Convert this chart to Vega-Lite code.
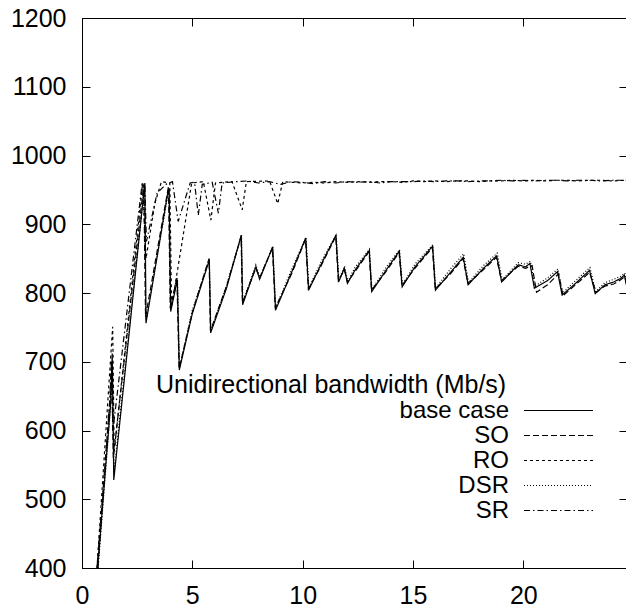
{
  "$schema": "https://vega.github.io/schema/vega-lite/v6.json",
  "width": 545,
  "height": 550,
  "autosize": "none",
  "padding": {"left": 82, "top": 18, "right": 0, "bottom": 41},
  "background": "white",
  "title": {
    "text": "Unidirectional bandwidth (Mb/s)",
    "orient": "top",
    "anchor": "start",
    "frame": "group",
    "offset": 0,
    "baseline": "top",
    "dx": 74,
    "dy": 392,
    "font": "Liberation Sans",
    "fontSize": 25,
    "fontWeight": "normal",
    "color": "black"
  },
  "config": {
    "font": "Liberation Sans",
    "view": {"stroke": "black", "strokeWidth": 1},
    "axis": {
      "grid": false,
      "title": null,
      "domainColor": "black",
      "domainWidth": 1,
      "tickColor": "black",
      "tickWidth": 1,
      "tickSize": -8,
      "labelColor": "black",
      "labelFontSize": 25,
      "labelFont": "Liberation Sans",
      "format": "d"
    }
  },
  "data": {
    "values": [
      {"s": "base case", "x": 0.71, "y": 400}, {"s": "base case", "x": 1.3, "y": 640}, {"s": "base case", "x": 1.37, "y": 712}, {"s": "base case", "x": 1.44, "y": 528},
      {"s": "base case", "x": 2.85, "y": 960}, {"s": "base case", "x": 2.9, "y": 756}, {"s": "base case", "x": 3.9, "y": 948}, {"s": "base case", "x": 3.95, "y": 952},
      {"s": "base case", "x": 4.02, "y": 773}, {"s": "base case", "x": 4.32, "y": 819}, {"s": "base case", "x": 4.41, "y": 688}, {"s": "base case", "x": 5.0, "y": 770},
      {"s": "base case", "x": 5.77, "y": 848}, {"s": "base case", "x": 5.83, "y": 742}, {"s": "base case", "x": 6.55, "y": 807}, {"s": "base case", "x": 7.22, "y": 884},
      {"s": "base case", "x": 7.28, "y": 783}, {"s": "base case", "x": 7.88, "y": 838}, {"s": "base case", "x": 8.05, "y": 820}, {"s": "base case", "x": 8.64, "y": 867},
      {"s": "base case", "x": 8.77, "y": 775}, {"s": "base case", "x": 9.5, "y": 830}, {"s": "base case", "x": 10.14, "y": 880}, {"s": "base case", "x": 10.27, "y": 804},
      {"s": "base case", "x": 10.78, "y": 838}, {"s": "base case", "x": 11.51, "y": 884}, {"s": "base case", "x": 11.63, "y": 816}, {"s": "base case", "x": 11.89, "y": 836},
      {"s": "base case", "x": 12.03, "y": 814}, {"s": "base case", "x": 12.37, "y": 833}, {"s": "base case", "x": 13.02, "y": 862}, {"s": "base case", "x": 13.13, "y": 802},
      {"s": "base case", "x": 13.8, "y": 834}, {"s": "base case", "x": 14.38, "y": 861}, {"s": "base case", "x": 14.51, "y": 809}, {"s": "base case", "x": 15.09, "y": 838},
      {"s": "base case", "x": 15.89, "y": 868}, {"s": "base case", "x": 16.02, "y": 804}, {"s": "base case", "x": 16.7, "y": 830}, {"s": "base case", "x": 17.28, "y": 852},
      {"s": "base case", "x": 17.5, "y": 812}, {"s": "base case", "x": 18.2, "y": 836}, {"s": "base case", "x": 18.79, "y": 854}, {"s": "base case", "x": 19.02, "y": 816},
      {"s": "base case", "x": 19.77, "y": 841}, {"s": "base case", "x": 20.1, "y": 838}, {"s": "base case", "x": 20.3, "y": 843}, {"s": "base case", "x": 20.5, "y": 807},
      {"s": "base case", "x": 21.1, "y": 818}, {"s": "base case", "x": 21.55, "y": 831}, {"s": "base case", "x": 21.76, "y": 797}, {"s": "base case", "x": 22.3, "y": 812},
      {"s": "base case", "x": 23.0, "y": 833}, {"s": "base case", "x": 23.26, "y": 799}, {"s": "base case", "x": 23.7, "y": 812}, {"s": "base case", "x": 24.1, "y": 816},
      {"s": "base case", "x": 24.4, "y": 821}, {"s": "base case", "x": 24.58, "y": 826}, {"s": "base case", "x": 24.7, "y": 808},

      {"s": "SO", "x": 0.68, "y": 400}, {"s": "SO", "x": 1.28, "y": 650}, {"s": "SO", "x": 1.34, "y": 700}, {"s": "SO", "x": 1.42, "y": 560},
      {"s": "SO", "x": 2.8, "y": 958}, {"s": "SO", "x": 2.88, "y": 765}, {"s": "SO", "x": 3.92, "y": 955}, {"s": "SO", "x": 4.0, "y": 778},
      {"s": "SO", "x": 4.3, "y": 822}, {"s": "SO", "x": 4.4, "y": 690}, {"s": "SO", "x": 5.0, "y": 772}, {"s": "SO", "x": 5.76, "y": 850},
      {"s": "SO", "x": 5.82, "y": 745}, {"s": "SO", "x": 6.55, "y": 810}, {"s": "SO", "x": 7.21, "y": 882}, {"s": "SO", "x": 7.27, "y": 786},
      {"s": "SO", "x": 7.88, "y": 836}, {"s": "SO", "x": 8.05, "y": 822}, {"s": "SO", "x": 8.63, "y": 865}, {"s": "SO", "x": 8.76, "y": 778},
      {"s": "SO", "x": 9.5, "y": 828}, {"s": "SO", "x": 10.13, "y": 878}, {"s": "SO", "x": 10.26, "y": 806}, {"s": "SO", "x": 10.78, "y": 836},
      {"s": "SO", "x": 11.5, "y": 882}, {"s": "SO", "x": 11.62, "y": 818}, {"s": "SO", "x": 11.89, "y": 834}, {"s": "SO", "x": 12.03, "y": 816},
      {"s": "SO", "x": 12.37, "y": 831}, {"s": "SO", "x": 13.01, "y": 860}, {"s": "SO", "x": 13.12, "y": 804}, {"s": "SO", "x": 13.8, "y": 832},
      {"s": "SO", "x": 14.37, "y": 859}, {"s": "SO", "x": 14.5, "y": 811}, {"s": "SO", "x": 15.09, "y": 836}, {"s": "SO", "x": 15.88, "y": 866},
      {"s": "SO", "x": 16.01, "y": 806}, {"s": "SO", "x": 16.7, "y": 828}, {"s": "SO", "x": 17.27, "y": 850}, {"s": "SO", "x": 17.49, "y": 814},
      {"s": "SO", "x": 18.2, "y": 834}, {"s": "SO", "x": 18.78, "y": 852}, {"s": "SO", "x": 19.01, "y": 818}, {"s": "SO", "x": 19.77, "y": 839},
      {"s": "SO", "x": 20.1, "y": 836}, {"s": "SO", "x": 20.4, "y": 840}, {"s": "SO", "x": 20.6, "y": 801}, {"s": "SO", "x": 21.1, "y": 812},
      {"s": "SO", "x": 21.6, "y": 828}, {"s": "SO", "x": 21.8, "y": 796}, {"s": "SO", "x": 22.3, "y": 810}, {"s": "SO", "x": 23.0, "y": 830},
      {"s": "SO", "x": 23.3, "y": 801}, {"s": "SO", "x": 23.7, "y": 810}, {"s": "SO", "x": 24.1, "y": 813}, {"s": "SO", "x": 24.4, "y": 819},
      {"s": "SO", "x": 24.6, "y": 824}, {"s": "SO", "x": 24.7, "y": 810},

      {"s": "RO", "x": 0.68, "y": 400}, {"s": "RO", "x": 1.39, "y": 751}, {"s": "RO", "x": 1.46, "y": 570}, {"s": "RO", "x": 2.75, "y": 960},
      {"s": "RO", "x": 2.9, "y": 850}, {"s": "RO", "x": 3.3, "y": 930}, {"s": "RO", "x": 3.6, "y": 962}, {"s": "RO", "x": 3.98, "y": 960},
      {"s": "RO", "x": 4.06, "y": 780}, {"s": "RO", "x": 4.97, "y": 960}, {"s": "RO", "x": 5.5, "y": 962}, {"s": "RO", "x": 5.84, "y": 906},
      {"s": "RO", "x": 6.05, "y": 960}, {"s": "RO", "x": 6.8, "y": 962}, {"s": "RO", "x": 7.26, "y": 921}, {"s": "RO", "x": 7.45, "y": 962},
      {"s": "RO", "x": 8.5, "y": 963}, {"s": "RO", "x": 8.87, "y": 930}, {"s": "RO", "x": 9.1, "y": 962}, {"s": "RO", "x": 9.5, "y": 961},
      {"s": "RO", "x": 10.0, "y": 960}, {"s": "RO", "x": 10.5, "y": 961}, {"s": "RO", "x": 11.0, "y": 960}, {"s": "RO", "x": 11.5, "y": 962},
      {"s": "RO", "x": 12.0, "y": 961}, {"s": "RO", "x": 12.5, "y": 962}, {"s": "RO", "x": 13.0, "y": 961}, {"s": "RO", "x": 13.5, "y": 962},
      {"s": "RO", "x": 14.0, "y": 962}, {"s": "RO", "x": 14.5, "y": 961}, {"s": "RO", "x": 15.0, "y": 963}, {"s": "RO", "x": 15.5, "y": 962},
      {"s": "RO", "x": 16.0, "y": 963}, {"s": "RO", "x": 16.5, "y": 962}, {"s": "RO", "x": 17.0, "y": 963}, {"s": "RO", "x": 17.5, "y": 963},
      {"s": "RO", "x": 18.0, "y": 962}, {"s": "RO", "x": 18.5, "y": 963}, {"s": "RO", "x": 19.0, "y": 963}, {"s": "RO", "x": 19.5, "y": 964},
      {"s": "RO", "x": 20.0, "y": 963}, {"s": "RO", "x": 20.5, "y": 964}, {"s": "RO", "x": 21.0, "y": 963}, {"s": "RO", "x": 21.5, "y": 964},
      {"s": "RO", "x": 22.0, "y": 964}, {"s": "RO", "x": 22.5, "y": 963}, {"s": "RO", "x": 23.0, "y": 964}, {"s": "RO", "x": 23.5, "y": 964},
      {"s": "RO", "x": 24.0, "y": 963}, {"s": "RO", "x": 24.7, "y": 964},

      {"s": "DSR", "x": 0.73, "y": 400}, {"s": "DSR", "x": 1.32, "y": 645}, {"s": "DSR", "x": 1.38, "y": 695}, {"s": "DSR", "x": 1.45, "y": 540},
      {"s": "DSR", "x": 2.83, "y": 955}, {"s": "DSR", "x": 2.9, "y": 760}, {"s": "DSR", "x": 3.93, "y": 950}, {"s": "DSR", "x": 4.01, "y": 776},
      {"s": "DSR", "x": 4.33, "y": 821}, {"s": "DSR", "x": 4.42, "y": 692}, {"s": "DSR", "x": 5.0, "y": 775}, {"s": "DSR", "x": 5.77, "y": 850},
      {"s": "DSR", "x": 5.84, "y": 746}, {"s": "DSR", "x": 6.55, "y": 811}, {"s": "DSR", "x": 7.23, "y": 885}, {"s": "DSR", "x": 7.29, "y": 787},
      {"s": "DSR", "x": 7.88, "y": 841}, {"s": "DSR", "x": 8.06, "y": 823}, {"s": "DSR", "x": 8.65, "y": 868}, {"s": "DSR", "x": 8.78, "y": 779},
      {"s": "DSR", "x": 9.5, "y": 834}, {"s": "DSR", "x": 10.15, "y": 881}, {"s": "DSR", "x": 10.28, "y": 807}, {"s": "DSR", "x": 10.78, "y": 842},
      {"s": "DSR", "x": 11.52, "y": 885}, {"s": "DSR", "x": 11.64, "y": 819}, {"s": "DSR", "x": 11.9, "y": 839}, {"s": "DSR", "x": 12.04, "y": 817},
      {"s": "DSR", "x": 12.37, "y": 837}, {"s": "DSR", "x": 13.03, "y": 864}, {"s": "DSR", "x": 13.14, "y": 805}, {"s": "DSR", "x": 13.8, "y": 838},
      {"s": "DSR", "x": 14.39, "y": 863}, {"s": "DSR", "x": 14.52, "y": 812}, {"s": "DSR", "x": 15.09, "y": 842}, {"s": "DSR", "x": 15.9, "y": 870},
      {"s": "DSR", "x": 16.03, "y": 807}, {"s": "DSR", "x": 16.7, "y": 835}, {"s": "DSR", "x": 17.3, "y": 857}, {"s": "DSR", "x": 17.52, "y": 815},
      {"s": "DSR", "x": 18.2, "y": 840}, {"s": "DSR", "x": 18.82, "y": 858}, {"s": "DSR", "x": 19.04, "y": 819}, {"s": "DSR", "x": 19.77, "y": 844},
      {"s": "DSR", "x": 20.1, "y": 842}, {"s": "DSR", "x": 20.32, "y": 846}, {"s": "DSR", "x": 20.52, "y": 810}, {"s": "DSR", "x": 21.1, "y": 822},
      {"s": "DSR", "x": 21.57, "y": 835}, {"s": "DSR", "x": 21.78, "y": 800}, {"s": "DSR", "x": 22.3, "y": 816}, {"s": "DSR", "x": 23.02, "y": 837},
      {"s": "DSR", "x": 23.28, "y": 802}, {"s": "DSR", "x": 23.7, "y": 815}, {"s": "DSR", "x": 24.1, "y": 820}, {"s": "DSR", "x": 24.4, "y": 824},
      {"s": "DSR", "x": 24.6, "y": 829}, {"s": "DSR", "x": 24.7, "y": 812},

      {"s": "SR", "x": 0.72, "y": 400}, {"s": "SR", "x": 1.25, "y": 640}, {"s": "SR", "x": 1.33, "y": 700}, {"s": "SR", "x": 1.4, "y": 600},
      {"s": "SR", "x": 2.72, "y": 958}, {"s": "SR", "x": 2.85, "y": 955}, {"s": "SR", "x": 2.92, "y": 875}, {"s": "SR", "x": 3.4, "y": 945},
      {"s": "SR", "x": 3.8, "y": 958}, {"s": "SR", "x": 4.1, "y": 962}, {"s": "SR", "x": 4.36, "y": 904}, {"s": "SR", "x": 4.9, "y": 960},
      {"s": "SR", "x": 5.1, "y": 961}, {"s": "SR", "x": 5.27, "y": 913}, {"s": "SR", "x": 5.45, "y": 958}, {"s": "SR", "x": 5.9, "y": 961},
      {"s": "SR", "x": 6.18, "y": 916}, {"s": "SR", "x": 6.35, "y": 960}, {"s": "SR", "x": 7.0, "y": 962}, {"s": "SR", "x": 7.5, "y": 963},
      {"s": "SR", "x": 8.0, "y": 960}, {"s": "SR", "x": 8.5, "y": 962}, {"s": "SR", "x": 9.0, "y": 958}, {"s": "SR", "x": 9.5, "y": 962},
      {"s": "SR", "x": 10.0, "y": 961}, {"s": "SR", "x": 10.5, "y": 959}, {"s": "SR", "x": 11.0, "y": 962}, {"s": "SR", "x": 11.5, "y": 960},
      {"s": "SR", "x": 12.0, "y": 962}, {"s": "SR", "x": 12.5, "y": 961}, {"s": "SR", "x": 13.0, "y": 962}, {"s": "SR", "x": 13.5, "y": 960},
      {"s": "SR", "x": 14.0, "y": 962}, {"s": "SR", "x": 14.5, "y": 962}, {"s": "SR", "x": 15.0, "y": 962}, {"s": "SR", "x": 15.5, "y": 963},
      {"s": "SR", "x": 16.0, "y": 962}, {"s": "SR", "x": 16.5, "y": 963}, {"s": "SR", "x": 17.0, "y": 963}, {"s": "SR", "x": 17.5, "y": 962},
      {"s": "SR", "x": 18.0, "y": 963}, {"s": "SR", "x": 18.5, "y": 963}, {"s": "SR", "x": 19.0, "y": 964}, {"s": "SR", "x": 19.5, "y": 963},
      {"s": "SR", "x": 20.0, "y": 964}, {"s": "SR", "x": 20.5, "y": 963}, {"s": "SR", "x": 21.0, "y": 964}, {"s": "SR", "x": 21.5, "y": 964},
      {"s": "SR", "x": 22.0, "y": 963}, {"s": "SR", "x": 22.5, "y": 964}, {"s": "SR", "x": 23.0, "y": 964}, {"s": "SR", "x": 23.5, "y": 963},
      {"s": "SR", "x": 24.0, "y": 964}, {"s": "SR", "x": 24.7, "y": 964}
    ]
  },
  "layer": [
    {
      "mark": {"type": "line", "color": "black", "strokeWidth": 1.2, "clip": true},
      "encoding": {
        "x": {
          "field": "x", "type": "quantitative",
          "scale": {"domain": [0, 24.7], "nice": false, "zero": false},
          "axis": {"orient": "bottom", "values": [0, 5, 10, 15, 20], "labelPadding": 23, "labelFlush": false}
        },
        "y": {
          "field": "y", "type": "quantitative",
          "scale": {"domain": [400, 1200], "nice": false, "zero": false},
          "axis": {"orient": "left", "values": [400, 500, 600, 700, 800, 900, 1000, 1100, 1200], "labelPadding": 24, "labelBaseline": "middle"}
        },
        "strokeDash": {
          "field": "s", "type": "nominal",
          "scale": {
            "domain": ["base case", "SO", "RO", "DSR", "SR"],
            "range": [[1, 0], [6, 3], [3, 3], [1, 2], [6, 3, 1.5, 3]]
          },
          "legend": {
            "orient": "none",
            "legendX": 464,
            "legendY": 380,
            "padding": 0,
            "title": null,
            "labelFontSize": 24,
            "labelFont": "Liberation Sans",
            "labelColor": "black",
            "labelAlign": "right",
            "labelOffset": -62,
            "labelLimit": 0,
            "symbolType": "M-3,0H3",
            "symbolSize": 529,
            "symbolStrokeWidth": 1.2,
            "symbolStrokeColor": "black",
            "symbolFillColor": "transparent",
            "rowPadding": 0
          }
        }
      }
    },
    {
      "mark": {"type": "line", "opacity": 0, "strokeOpacity": 0},
      "encoding": {
        "x": {
          "field": "x", "type": "quantitative",
          "scale": {"domain": [0, 24.7], "nice": false, "zero": false},
          "axis": {"orient": "top", "values": [0, 5, 10, 15, 20], "labels": false}
        },
        "y": {
          "field": "y", "type": "quantitative",
          "scale": {"domain": [400, 1200], "nice": false, "zero": false},
          "axis": {"orient": "right", "values": [400, 500, 600, 700, 800, 900, 1000, 1100, 1200], "labels": false}
        },
        "detail": {"field": "s", "type": "nominal"}
      }
    }
  ],
  "resolve": {"axis": {"x": "independent", "y": "independent"}}
}
